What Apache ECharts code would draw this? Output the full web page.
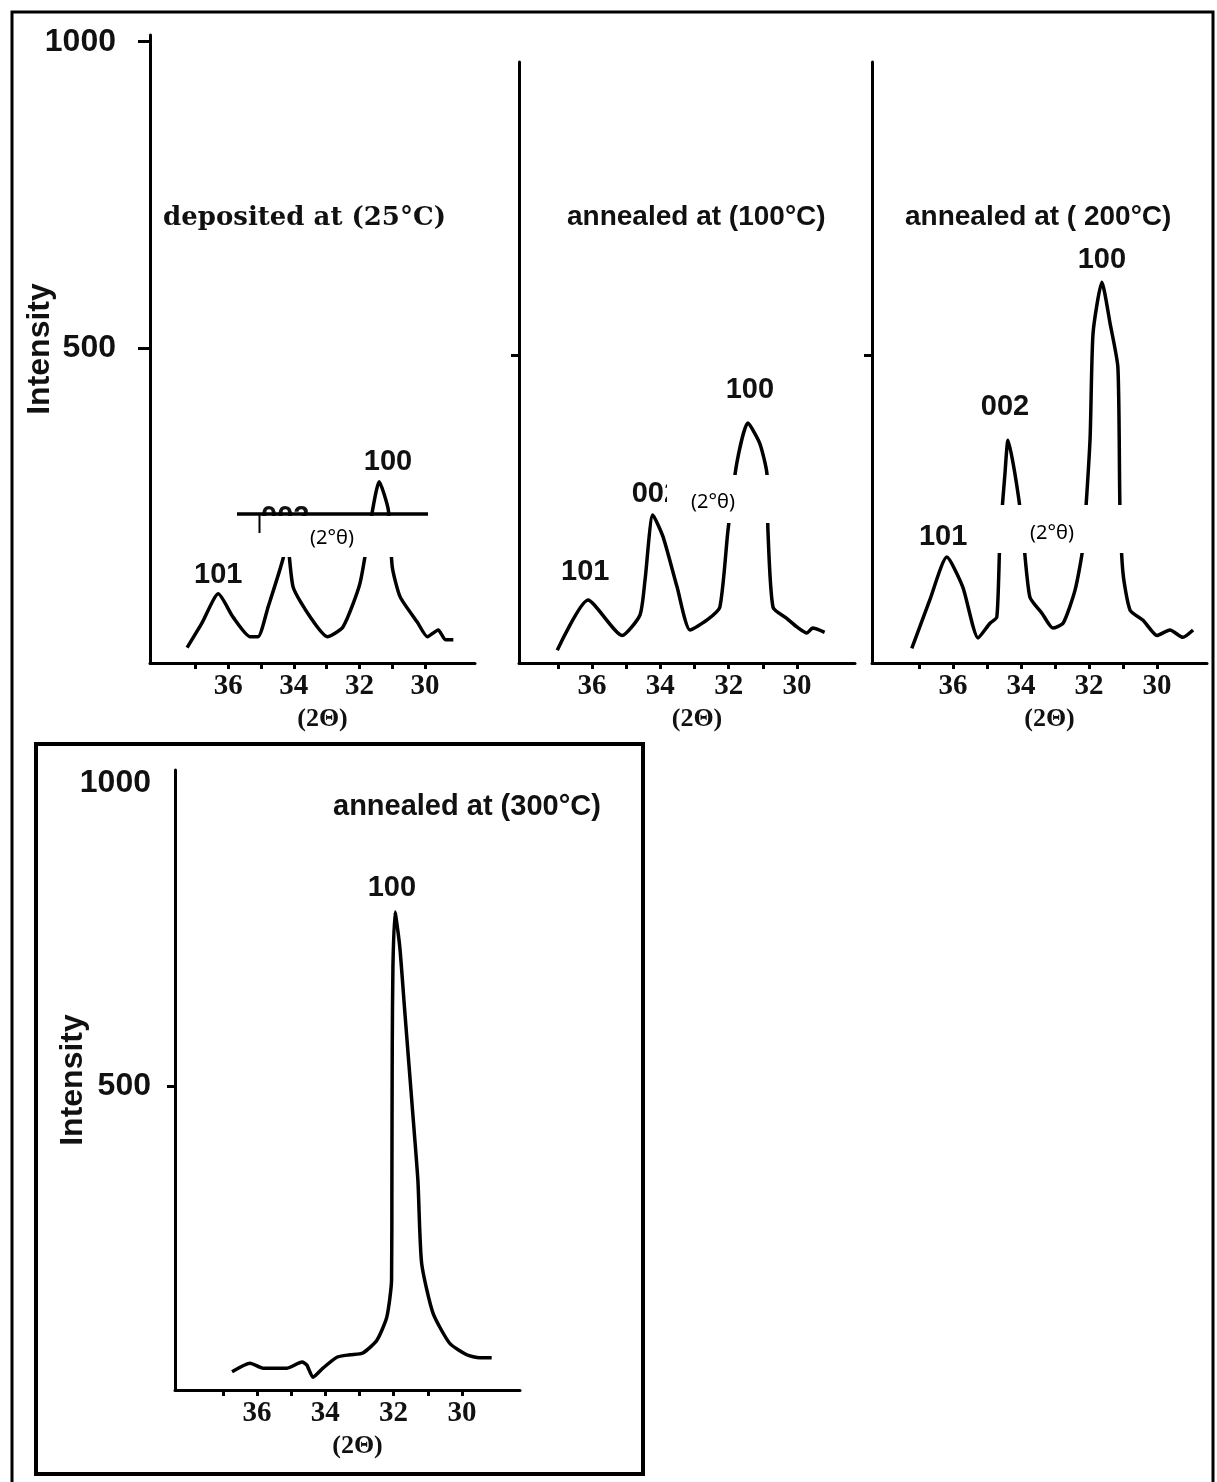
<!DOCTYPE html>
<html>
<head>
<meta charset="utf-8">
<script src="https://cdn.jsdelivr.net/npm/echarts@6/dist/echarts.min.js"></script>
<style>
html,body{margin:0;padding:0;background:#fff;}
#chart{width:1217px;height:1482px;}
</style>
</head>
<body>
<div id="chart"></div>
<script>
// ---- data (2θ in degrees, intensity in counts) ----
const p1Theta = [37.25, 36.8, 36.3, 35.85, 35.33, 35.09, 34.78, 34.32, 34.22, 34.02, 33.5, 32.98, 32.5, 31.98, 31.61, 31.4, 31.12, 31.0, 30.76, 30.24, 29.93, 29.6, 29.38, 29.14];
const p1Int   = [10, 50, 98, 60, 28, 28, 77, 157, 198, 109, 60, 28, 44, 116, 232, 281, 235, 142, 93, 52, 28, 39, 23, 23];

const p2Theta = [37.02, 36.12, 35.12, 34.6, 34.45, 34.22, 33.92, 33.51, 33.13, 32.64, 32.26, 32.02, 31.76, 31.44, 31.09, 30.88, 30.85, 30.7, 30.3, 30.0, 29.71, 29.54, 29.19];
const p2Int   = [18, 100, 42, 75, 132, 239, 203, 121, 51, 67, 88, 214, 324, 389, 356, 307, 214, 88, 70, 56, 46, 54, 47];

const p3Theta = [37.21, 36.68, 36.18, 35.71, 35.26, 34.91, 34.71, 34.62, 34.47, 34.38, 34.18, 33.97, 33.74, 33.38, 33.06, 32.76, 32.41, 32.18, 31.97, 31.88, 31.62, 31.38, 31.15, 31.09, 31.0, 30.79, 30.41, 30.0, 29.62, 29.24, 28.94];
const p3Int   = [21, 100, 170, 121, 38, 62, 72, 198, 307, 361, 307, 225, 105, 78, 54, 62, 116, 186, 361, 536, 619, 552, 480, 252, 144, 83, 67, 42, 51, 39, 51];

const p4Theta = [36.73, 36.2, 35.82, 35.12, 34.68, 34.54, 34.36, 34.07, 33.66, 33.28, 32.9, 32.49, 32.2, 32.06, 32.05, 32.04, 32.02, 31.96, 31.82, 31.67, 31.44, 31.29, 31.18, 30.85, 30.36, 29.86, 29.48, 29.13];
const p4Int   = [30, 44, 36, 36, 46, 41, 21, 36, 54, 58, 61, 82, 120, 181, 346, 565, 697, 787, 730, 621, 456, 346, 209, 127, 77, 58, 53, 53];

// peak (hkl) labels: text, 2θ, intensity position
const p1PeakText = ['101', '002', '100'];
const p1PeakTheta = [36.3, 34.26, 31.13];
const p1PeakInt = [129, 222, 314];
const p2PeakText = ['101', '002', '100'];
const p2PeakTheta = [36.2, 34.13, 31.38];
const p2PeakInt = [145, 273, 443];
const p3PeakText = ['101', '002', '100'];
const p3PeakTheta = [36.29, 34.47, 31.62];
const p3PeakInt = [203, 415, 655];
const p4PeakText = ['100'];
const p4PeakTheta = [32.05];
const p4PeakInt = [827];

const panelTitles = ['deposited at (25°C)', 'annealed at (100°C)', 'annealed at ( 200°C)', 'annealed at (300°C)'];
const xTickValues = [30, 31, 32, 33, 34, 35, 36, 37];
const xLabelValues = [30, 32, 34, 36];
const yLabelValues = [500, 1000];
const yTick500 = [500];
const xName = '(2Θ)';
const yName = 'Intensity';
const boxText = '(2°θ)';

// ---- build ----
const chart = echarts.init(document.getElementById('chart'), null, {renderer: 'canvas'});

const grids = [
  {left: 150, top: 35, width: 325, height: 628},
  {left: 519, top: 62, width: 336, height: 601},
  {left: 872, top: 62, width: 335, height: 601},
  {left: 175, top: 770, width: 345, height: 620}
];
const xRanges = [[28.48, 38.38], [28.30, 38.14], [28.53, 38.38], [28.30, 38.40]];
const yRanges = [[-15, 1011], [-3, 979], [-3, 979], [0, 1021]];

const axisLineStyle = {color: '#000', width: 3};
const tickLabelFont = {fontFamily: 'Liberation Serif', fontWeight: 'bold', fontSize: 29, color: '#111'};

const xAxes = grids.map((g, i) => ({
  type: 'value', gridIndex: i, inverse: true,
  min: xRanges[i][0], max: xRanges[i][1],
  axisLine: {show: true, onZero: false, lineStyle: axisLineStyle},
  axisTick: {show: true, length: 6, inside: false, customValues: xTickValues, lineStyle: {color: '#000', width: 3}},
  axisLabel: {show: true, customValues: xLabelValues, margin: 9, formatter: v => String(v), ...tickLabelFont},
  splitLine: {show: false},
  name: xName, nameLocation: 'middle', nameGap: 43, nameMoveOverlap: false,
  nameTextStyle: {fontFamily: 'Liberation Serif', fontWeight: 'bold', fontSize: 26, color: '#111', padding: [0, 0, 0, 20]}
}));

const yAxes = grids.map((g, i) => {
  const withLabels = (i === 0 || i === 3);
  return {
    type: 'value', gridIndex: i,
    min: yRanges[i][0], max: yRanges[i][1],
    axisLine: {show: true, onZero: false, lineStyle: axisLineStyle},
    axisTick: {show: true, length: (i === 0 ? 12 : 8), customValues: (i === 0 ? yLabelValues : yTick500), lineStyle: {color: '#000', width: 3}},
    axisLabel: {show: withLabels, customValues: yLabelValues, margin: (i === 0 ? 34 : 24), formatter: v => String(v),
      fontFamily: 'Liberation Sans', fontWeight: 'bold', fontSize: 32, color: '#111'},
    splitLine: {show: false},
    name: withLabels ? yName : '', nameLocation: 'middle', nameRotate: 90,
    nameGap: (i === 0 ? 94 : 86), nameMoveOverlap: false,
    nameTextStyle: {fontFamily: 'Liberation Sans', fontWeight: 'bold', fontSize: 32, color: '#111'}
  };
});

function zip(a, b) { return a.map((v, k) => [v, b[k]]); }
function peaks(txt, th, it) {
  return txt.map((t, k) => ({name: t, coord: [th[k], it[k]], value: t}));
}

const seriesSrc = [
  [p1Theta, p1Int, p1PeakText, p1PeakTheta, p1PeakInt],
  [p2Theta, p2Int, p2PeakText, p2PeakTheta, p2PeakInt],
  [p3Theta, p3Int, p3PeakText, p3PeakTheta, p3PeakInt],
  [p4Theta, p4Int, p4PeakText, p4PeakTheta, p4PeakInt]
];

const series = seriesSrc.map((s, i) => ({
  type: 'line', xAxisIndex: i, yAxisIndex: i,
  data: zip(s[0], s[1]),
  showSymbol: false, smooth: 0.2,
  lineStyle: {color: '#000', width: 3.5},
  z: 3,
  markPoint: {
    symbol: 'rect', symbolSize: 1,
    itemStyle: {color: 'rgba(0,0,0,0)'},
    label: {show: true, position: 'inside', formatter: '{b}',
      fontFamily: 'Liberation Sans', fontWeight: 'bold', fontSize: 29, color: '#111'},
    data: peaks(s[2], s[3], s[4])
  }
}));

const titles = [
  {text: panelTitles[0], left: 163, top: 205, padding: 0, textStyle: {fontFamily: 'DejaVu Serif', fontWeight: 'bold', fontSize: 26, color: '#111'}},
  {text: panelTitles[1], left: 567, top: 203, padding: 0, textStyle: {fontFamily: 'Liberation Sans', fontWeight: 'bold', fontSize: 28, color: '#111'}},
  {text: panelTitles[2], left: 905, top: 203, padding: 0, textStyle: {fontFamily: 'Liberation Sans', fontWeight: 'bold', fontSize: 28, color: '#111'}},
  {text: panelTitles[3], left: 333, top: 792, padding: 0, textStyle: {fontFamily: 'Liberation Sans', fontWeight: 'bold', fontSize: 29, color: '#111'}}
];

const boxFont = {fontFamily: 'Noto Sans', fontSize: 20, fill: '#000'};
const graphic = [
  // outer frame
  {type: 'rect', z: 100, shape: {x: 12, y: 12, width: 1201, height: 1480}, style: {fill: 'none', stroke: '#000', lineWidth: 3}},
  // inner frame around the 300°C panel
  {type: 'rect', z: 100, shape: {x: 36, y: 744, width: 607, height: 730}, style: {fill: 'none', stroke: '#000', lineWidth: 4}},
  // white cover boxes with (2°θ)
  {type: 'rect', z: 100, shape: {x: 260, y: 516, width: 145, height: 41}, style: {fill: '#fff'}},
  {type: 'text', z: 101, style: {text: boxText, x: 332, y: 538, align: 'center', verticalAlign: 'middle', ...boxFont}},
  {type: 'line', z: 102, shape: {x1: 237, y1: 514, x2: 428, y2: 514}, style: {stroke: '#000', lineWidth: 3.5}},
  {type: 'line', z: 102, shape: {x1: 259.5, y1: 514, x2: 259.5, y2: 533}, style: {stroke: '#000', lineWidth: 2}},
  {type: 'rect', z: 100, shape: {x: 667, y: 475, width: 143, height: 48}, style: {fill: '#fff'}},
  {type: 'text', z: 101, style: {text: boxText, x: 713, y: 502, align: 'center', verticalAlign: 'middle', ...boxFont}},
  {type: 'rect', z: 100, shape: {x: 981, y: 505, width: 143, height: 48}, style: {fill: '#fff'}},
  {type: 'text', z: 101, style: {text: boxText, x: 1052, y: 533, align: 'center', verticalAlign: 'middle', ...boxFont}}
];

chart.setOption({
  backgroundColor: '#fff',
  animation: false,
  title: titles,
  grid: grids,
  xAxis: xAxes,
  yAxis: yAxes,
  series: series,
  graphic: graphic
});
</script>
</body>
</html>
